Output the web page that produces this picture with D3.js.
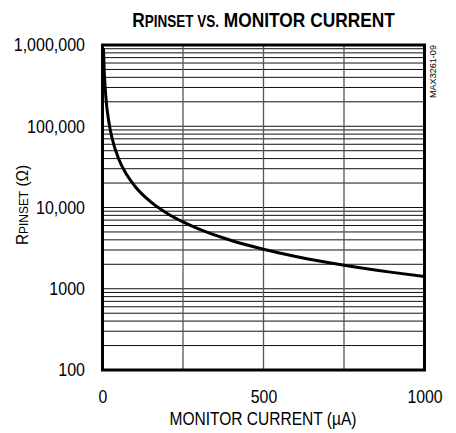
<!DOCTYPE html>
<html><head><meta charset="utf-8">
<script src="https://cdn.jsdelivr.net/npm/d3@7"></script>
<style>
body{margin:0;background:#fff;}
svg{display:block;}
text{font-family:"Liberation Sans",Arial,sans-serif;}
</style></head>
<body><svg id="c" width="456" height="433"></svg>
<script>
// Data
const current = [3, 5, 10, 20, 30, 50, 75, 100, 150, 200, 250, 300, 400, 500, 600, 700, 800, 900, 1000];
const rpinset = [920000, 520000, 240000, 111000, 70600, 39900, 25400, 18400, 11700, 8500, 6640, 5410, 3930, 3070, 2500, 2110, 1815, 1590, 1415];
const yTickValues = [100, 1000, 10000, 100000, 1000000];
const yTickLabels = ["100", "1000", "10,000", "100,000", "1,000,000"];
const xTickValues = [0, 500, 1000];
const xTickLabels = ["0", "500", "1000"];
const xGridValues = [250, 500, 750];

const svg = d3.select("#c");
const L = 102.5, R = 424.5, T = 45, B = 370;
const x = d3.scaleLinear().domain([0, 1000]).range([L, R]);
const y = d3.scaleLog().domain([100, 1000000]).range([B, T]);

function condense(sel, f) {
  sel.each(function () {
    const w = this.getComputedTextLength();
    d3.select(this).attr("textLength", w * f).attr("lengthAdjust", "spacingAndGlyphs");
  });
}
// horizontally squeeze a (multi-tspan) text to a target length via transform
function squeeze(textSel, base, target) {
  const w = textSel.node().getComputedTextLength();
  textSel.attr("transform", `${base} scale(${target / w},1)`);
}

// horizontal log grid
const hGrid = [];
for (let d = 100; d < 1000000; d *= 10) for (let m = 2; m <= 9; m++) hGrid.push(d * m);
hGrid.push(1000, 10000, 100000);
svg.append("g").selectAll("line").data(hGrid).join("line")
  .attr("x1", L).attr("x2", R)
  .attr("y1", d => y(d)).attr("y2", d => y(d))
  .attr("stroke", "#111").attr("stroke-width", 1);

svg.append("g").selectAll("line").data(xGridValues).join("line")
  .attr("x1", d => x(d)).attr("x2", d => x(d))
  .attr("y1", T).attr("y2", B)
  .attr("stroke", "#555").attr("stroke-width", 1.3);

// curve
svg.append("clipPath").attr("id", "clip").append("rect")
  .attr("x", L).attr("y", T).attr("width", R - L).attr("height", B - T);
const pts = current.map((c, i) => [c, rpinset[i]]);
svg.append("path").datum(pts)
  .attr("clip-path", "url(#clip)")
  .attr("d", d3.line().x(d => x(d[0])).y(d => y(d[1])).curve(d3.curveMonotoneX))
  .attr("fill", "none").attr("stroke", "#000").attr("stroke-width", 3);

// frame
svg.append("rect").attr("x", L).attr("y", T).attr("width", R - L).attr("height", B - T)
  .attr("fill", "none").attr("stroke", "#000").attr("stroke-width", 3);

// axes
const yAxis = d3.axisLeft(y).tickValues(yTickValues)
  .tickFormat((d, i) => yTickLabels[i]).tickSize(0).tickPadding(17.5);
const gy = svg.append("g").attr("transform", `translate(${L},0)`).call(yAxis);
gy.select(".domain").remove();
gy.selectAll("text").attr("font-size", 18).attr("fill", "#000")
  .attr("font-family", '"Liberation Sans",Arial,sans-serif');
condense(gy.selectAll("text"), 0.89);

const xAxis = d3.axisBottom(x).tickValues(xTickValues)
  .tickFormat((d, i) => xTickLabels[i]).tickSize(0).tickPadding(20);
const gx = svg.append("g").attr("transform", `translate(0,${B})`).call(xAxis);
gx.select(".domain").remove();
gx.selectAll("text").attr("font-size", 18).attr("fill", "#000")
  .attr("font-family", '"Liberation Sans",Arial,sans-serif');
condense(gx.selectAll("text"), 0.88);

// title
const title = svg.append("text").attr("x", 0).attr("y", 0)
  .attr("text-anchor", "middle").attr("font-weight", "bold").attr("fill", "#000");
title.append("tspan").attr("font-size", 20.5).text("R");
title.append("tspan").attr("font-size", 16).text("PINSET VS.");
title.append("tspan").attr("font-size", 20.5).text(" MONITOR CURRENT");
squeeze(title, "translate(263.5,27)", 263);

// y title
const yt = svg.append("text").attr("x", 0).attr("y", 0)
  .attr("text-anchor", "middle").attr("fill", "#000");
yt.append("tspan").attr("font-size", 16).text("R");
yt.append("tspan").attr("font-size", 12.5).text("PINSET");
yt.append("tspan").attr("font-size", 16).text(" (Ω)");
squeeze(yt, "translate(27.5,205) rotate(-90)", 80);

// x title
const xt = svg.append("text").attr("x", 263).attr("y", 425).attr("text-anchor", "middle")
  .attr("font-size", 18.5).attr("fill", "#000").text("MONITOR CURRENT (µA)");
condense(xt, 187 / xt.node().getComputedTextLength());

// part number
const pn = svg.append("text").attr("x", 0).attr("y", 0)
  .attr("text-anchor", "start").attr("font-size", 9.5).attr("fill", "#000").text("MAX3261-09");
squeeze(pn, "translate(436,98) rotate(-90)", 53);
</script></body></html>
